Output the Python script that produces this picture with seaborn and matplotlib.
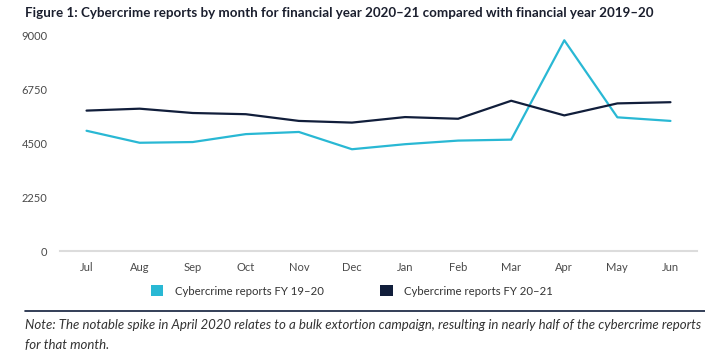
import pandas as pd
import seaborn as sns
import matplotlib.pyplot as plt
from matplotlib.patches import Patch
from matplotlib.lines import Line2D

# Monthly values
months = ["Jul", "Aug", "Sep", "Oct", "Nov", "Dec", "Jan", "Feb", "Mar", "Apr", "May", "Jun"]
fy_19_20 = [5010, 4510, 4540, 4870, 4960, 4240, 4450, 4600, 4640, 8780, 5570, 5420]
fy_20_21 = [5850, 5930, 5750, 5700, 5420, 5350, 5580, 5510, 6260, 5650, 6150, 6200]
series_names = ["Cybercrime reports FY 19–20", "Cybercrime reports FY 20–21"]
y_ticks = [0, 2250, 4500, 6750, 9000]

cyan = "#29B8D4"
navy = "#111E3B"

# Long-form table for seaborn
df = pd.DataFrame({
    "month": months * 2,
    "idx": list(range(len(months))) * 2,
    "reports": fy_19_20 + fy_20_21,
    "series": [series_names[0]] * len(months) + [series_names[1]] * len(months),
})

sns.set_theme(style="white")
plt.rcParams["font.family"] = ["Lato", "DejaVu Sans"]

fig = plt.figure(figsize=(7.05, 3.55), dpi=100)
ax = fig.add_axes([60 / 705, 104 / 355, 637 / 705, 216 / 355])

sns.lineplot(data=df, x="idx", y="reports", hue="series",
             palette=[cyan, navy], linewidth=1.6, legend=False, ax=ax)

ax.set_xlim(-0.5, len(months) - 0.5)
ax.set_ylim(0, 9000)
ax.set_xticks(range(len(months)))
ax.set_xticklabels(months)
ax.set_yticks(y_ticks)
ax.set_yticklabels([str(t) for t in y_ticks])
ax.set_xlabel("")
ax.set_ylabel("")
ax.tick_params(axis="both", length=0, labelsize=8, colors="#4a4a4a")
ax.tick_params(axis="y", pad=9)
ax.tick_params(axis="x", pad=8)

for side in ["top", "right", "left"]:
    ax.spines[side].set_visible(False)
ax.spines["bottom"].set_color("#dcdcdc")
ax.spines["bottom"].set_linewidth(1.5)

# Title
fig.text(25 / 705, 1 - 13 / 355, "Figure 1: Cybercrime reports by month for financial year 2020–21 "
         "compared with financial year 2019–20",
         fontsize=9.6, fontweight="bold", color="#1b1f2e", va="center", ha="left")

# Legend with square swatches
handles = [Patch(facecolor=cyan, edgecolor="none"), Patch(facecolor=navy, edgecolor="none")]
fig.legend(handles, series_names, loc="center", bbox_to_anchor=(352 / 705, 1 - 291 / 355),
           ncol=2, frameon=False, fontsize=8.2, handlelength=1.1, handleheight=1.1,
           handletextpad=1.0, columnspacing=5.0, labelcolor="#333333")

# Separator line and note
fig.add_artist(Line2D([25 / 705, 1.0], [1 - 311 / 355, 1 - 311 / 355],
                      transform=fig.transFigure, color=navy, linewidth=1.2))
fig.text(25 / 705, 1 - 325 / 355,
         "Note: The notable spike in April 2020 relates to a bulk extortion campaign, "
         "resulting in nearly half of the cybercrime reports",
         fontsize=9.5, style="italic", color="#333333", va="center", ha="left")
fig.text(25 / 705, 1 - 345 / 355, "for that month.",
         fontsize=9.5, style="italic", color="#333333", va="center", ha="left")

fig.savefig("out.png", dpi=100)
